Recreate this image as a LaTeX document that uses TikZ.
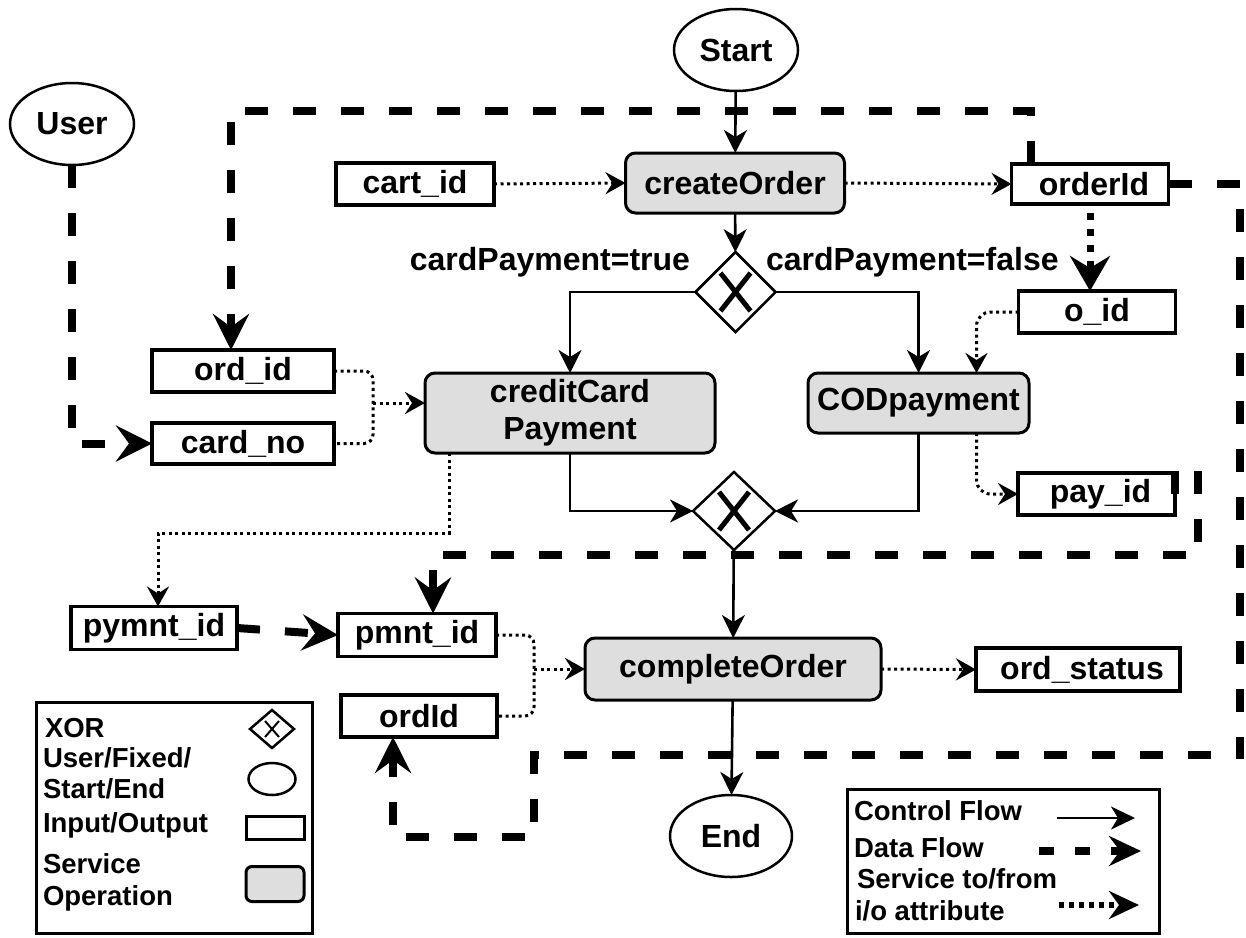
\documentclass[tikz,border=0pt]{standalone}
\usepackage{fontspec}
\setmainfont{Liberation Sans}
\usetikzlibrary{arrows.meta,shapes.geometric}
\begin{document}
\begin{tikzpicture}[x=1pt,y=-1pt,
  font=\fontsize{32}{37}\selectfont\bfseries,
  every node/.style={inner sep=0pt, outer sep=0pt},
  term/.style={ellipse, draw, line width=2.5pt, minimum width=124pt, minimum height=82pt},
  iobox/.style={rectangle, draw, line width=3.5pt, minimum height=42pt},
  opbox/.style={rectangle, rounded corners=10pt, draw, line width=3pt, fill=black!13},
  gate/.style={diamond, draw, line width=2.5pt, minimum width=80pt, minimum height=80pt,
    path picture={\draw[line width=5pt]
      ([shift={(-15,-19)}]path picture bounding box.center) -- ([shift={(15,19)}]path picture bounding box.center)
      ([shift={(15,-19)}]path picture bounding box.center) -- ([shift={(-15,19)}]path picture bounding box.center);}},
  ctrl/.style={line width=2.6pt, -{Stealth[length=23pt,width=23pt,inset=7pt]}},
  dataflow/.style={line width=8pt, dash pattern=on 23pt off 25pt, -{Stealth[length=36pt,width=36pt,inset=13pt]}},
  dotline/.style={line width=3pt, dash pattern=on 3pt off 3.5pt},
  dotflow/.style={dotline, -{Stealth[length=20pt,width=22pt,inset=7pt]}},
  bigdot/.style={line width=7pt, dash pattern=on 7pt off 9pt, -{Stealth[length=35pt,width=40pt,inset=12pt]}},
  legtext/.style={font=\fontsize{27.5}{30}\selectfont\bfseries, anchor=base west},
]
\fill[white] (0,0) rectangle (1246,937);
\useasboundingbox (0,0) rectangle (1246,937);

% ---- terminals ----
\node[term] (start) at (736,50) {Start};
\node[term] (user) at (72,124) {User};
\node[term, minimum width=122pt] (end) at (731,836) {End};

% ---- service operations ----
\node[opbox, minimum width=219pt, minimum height=60pt] (createOrder) at (735,183) {createOrder};
\node[opbox, minimum width=290pt, minimum height=80pt, align=center] (ccPay) at (570,413) {creditCard\\Payment};
\node[opbox, minimum width=221pt, minimum height=60pt] (codPay) at (918.5,403) {CODpayment};
\node[opbox, minimum width=296pt, minimum height=62pt] (completeOrder) at (733,669) {completeOrder};

% ---- gateways ----
\node[gate] (xor1) at (735.5,292) {};
\node[gate, minimum width=82pt, minimum height=78pt] (xor2) at (734,511) {};

% ---- input / output attributes ----
\node[iobox, minimum width=158pt] (cartId) at (415,184) {cart\_id};
\node[iobox, minimum width=157pt, minimum height=40pt] (orderId) at (1090,184) {\hspace{8pt}orderId};
\node[iobox, minimum width=157pt] (oId) at (1097,312) {o\_id};
\node[iobox, minimum width=182pt] (ordIdIn) at (243,371) {ord\_id};
\node[iobox, minimum width=182pt, minimum height=41pt] (cardNo) at (243,443.5) {card\_no};
\node[iobox, minimum width=157pt] (payId) at (1096.5,494) {\hspace{8pt}pay\_id};
\node[iobox, minimum width=166pt, minimum height=43pt] (pymntId) at (154,628) {pymnt\_id};
\node[iobox, minimum width=158pt, minimum height=43pt] (pmntId) at (417,635) {pmnt\_id};
\node[iobox, minimum width=156pt] (ordIdB) at (419,716) {ordId};
\node[iobox, minimum width=204pt, minimum height=43pt] (ordStatus) at (1078,669.5) {\hspace{8pt}ord\_status};

% ---- branch labels ----
\node[anchor=base east] (lblTrue) at (690,270) {cardPayment=true};
\node[anchor=base west] (lblFalse) at (766,270) {cardPayment=false};

% ---- control flow ----
\draw[ctrl] (start) -- (createOrder);
\draw[ctrl] (createOrder) -- (xor1);
\draw[ctrl] (xor1.west) -| (ccPay.north);
\draw[ctrl] (xor1.east) -| (codPay.north);
\draw[ctrl] (ccPay.south) |- (xor2.west);
\draw[ctrl] (codPay.south) |- (xor2.east);
\draw[ctrl] (xor2) -- (completeOrder);
\draw[ctrl] (completeOrder) -- (end);

% ---- service to/from attribute links ----
\draw[dotflow] (cartId.east) -- (createOrder.west);
\draw[dotflow] (createOrder.east) -- (orderId.west);
\draw[bigdot] ([yshift=-9pt]orderId.south) -- (orderId.south |- oId.north);
\draw[dotflow, rounded corners=14pt] (oId.west) -| ([xshift=58pt]codPay.north);
\coordinate (mergeA) at (373,403);
\draw[dotline, rounded corners=9pt] (ordIdIn.east) -| (mergeA) |- (cardNo.east);
\draw[dotflow] (mergeA) -- (mergeA -| ccPay.west);
\draw[dotflow] ([xshift=-121pt]ccPay.south) -- ++(0,80) -| ([xshift=4pt]pymntId.north);
\draw[dotflow, rounded corners=14pt] ([xshift=58pt]codPay.south) |- (payId.west);
\coordinate (mergeB) at (534,669);
\draw[dotline, rounded corners=9pt] (pmntId.east) -| (mergeB) |- (ordIdB.east);
\draw[dotflow] (mergeB) -- (completeOrder.west);
\draw[dotflow] (completeOrder.east) -- (ordStatus.west);

% ---- data flow ----
\draw[dataflow] (user.south) |- (cardNo.west);
\draw[dataflow] ([xshift=-59pt]orderId.north) -- ++(0,-53) -| ([xshift=-12pt]ordIdIn.north);
\draw[dataflow] (orderId.east) -- (1240,184) -- (1240,755) -- (534,755) -- (534,837) -| ([xshift=-26pt]ordIdB.south);
\draw[dataflow] (payId.east) -- ++(0,-24) -- (1198,470) -- (1198,555) -| ([xshift=16pt]pmntId.north);
\draw[dataflow] (pymntId.east) -- (pmntId.west);

% ---- legend: node kinds ----
\node[draw, line width=3pt, minimum width=276pt, minimum height=231pt] (legendL) at (174,817.5) {};
\node[legtext] (lgXor) at (45,737) {XOR};
\node[legtext] (lgTerm1) at (43,767) {User/Fixed/};
\node[legtext] (lgTerm2) at (43,798) {Start/End};
\node[legtext] (lgIo) at (43,832) {Input/Output};
\node[legtext] (lgOp1) at (43,873) {Service};
\node[legtext] (lgOp2) at (43,905) {Operation};
\node[diamond, draw, line width=2.5pt, minimum width=44pt, minimum height=38pt,
  path picture={\draw[line width=2pt]
    ([shift={(-7,-8)}]path picture bounding box.center) -- ([shift={(7,8)}]path picture bounding box.center)
    ([shift={(7,-8)}]path picture bounding box.center) -- ([shift={(-7,8)}]path picture bounding box.center);}]
  (lgXorSym) at (272,729) {};
\node[ellipse, draw, line width=2.5pt, minimum width=47pt, minimum height=32pt] (lgTermSym) at (272,779) {};
\node[rectangle, draw, line width=3pt, minimum width=58pt, minimum height=23pt] (lgIoSym) at (275,828) {};
\node[rectangle, rounded corners=6pt, draw, line width=3pt, fill=black!13, minimum width=58pt, minimum height=35pt] (lgOpSym) at (275,884) {};

% ---- legend: connector kinds ----
\node[draw, line width=3pt, minimum width=312pt, minimum height=144pt] (legendR) at (1003,861) {};
\node[legtext] (lgCtrl) at (854,820) {Control Flow};
\node[legtext] (lgData) at (854,857) {Data Flow};
\node[legtext] (lgSvc1) at (857,888) {Service to/from};
\node[legtext] (lgSvc2) at (855,920) {i/o attribute};
\coordinate (cfA) at (1057,818); \coordinate (cfB) at (1135,818);
\coordinate (dfA) at (1039,851); \coordinate (dfB) at (1141,851);
\coordinate (sfA) at (1059,905); \coordinate (sfB) at (1139,905);
\draw[line width=2.5pt, -{Stealth[length=24pt,width=23pt,inset=7pt]}] (cfA) -- (cfB);
\draw[line width=8pt, dash pattern=on 15pt off 21pt, -{Stealth[length=32pt,width=30pt,inset=11pt]}] (dfA) -- (dfB);
\draw[line width=6pt, dash pattern=on 5pt off 5pt, -{Stealth[length=30pt,width=28pt,inset=10pt]}] (sfA) -- (sfB);
\end{tikzpicture}
\end{document}
